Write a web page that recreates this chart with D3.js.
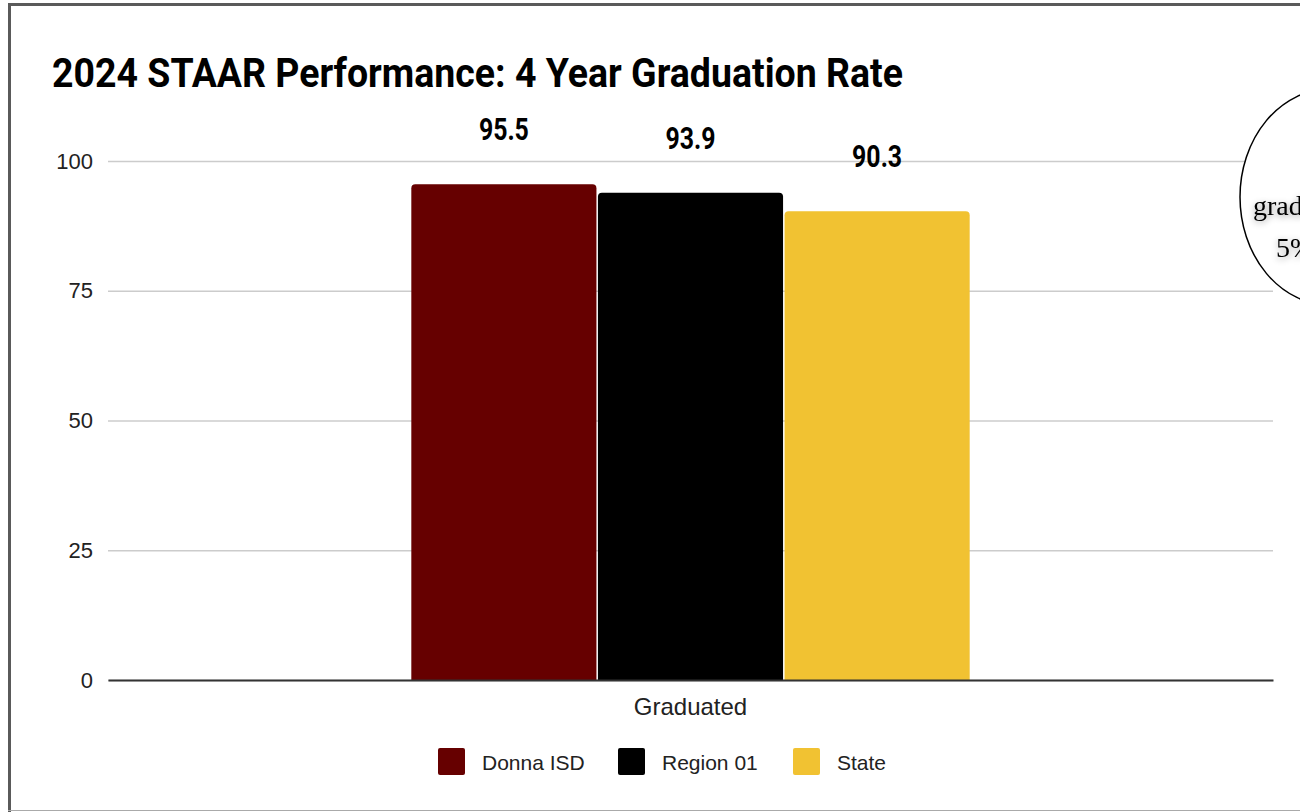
<!DOCTYPE html>
<html>
<head>
<meta charset="utf-8">
<script src="https://cdn.jsdelivr.net/npm/d3@7"></script>
<style>
  body { margin: 0; background: #fff; }
  svg { display: block; }
</style>
</head>
<body>
<div id="chart-area"></div>
<script>
// data
var categories = ["Graduated"];
var seriesNames = ["Donna ISD", "Region 01", "State"];
var seriesValues = [95.5, 93.9, 90.3];
var yTicks = [0, 25, 50, 75, 100];
var seriesColors = ["#660000", "#000000", "#f1c232"];

var W = 1300, H = 812;
var margin = { left: 108, right: 27, top: 161, bottom: 132 };
var width = W - margin.left - margin.right,
    height = H - margin.top - margin.bottom;

var svg = d3.select("#chart-area")
  .append("svg")
    .attr("width", W)
    .attr("height", H);

// outer frame
svg.append("line").attr("x1", 9.5).attr("x2", 9.5).attr("y1", 3).attr("y2", 812)
  .attr("stroke", "#5a5a5a").attr("stroke-width", 3);
svg.append("line").attr("x1", 8).attr("x2", 1300).attr("y1", 4.5).attr("y2", 4.5)
  .attr("stroke", "#5a5a5a").attr("stroke-width", 3);
svg.append("line").attr("x1", 8).attr("x2", 1300).attr("y1", 810.5).attr("y2", 810.5)
  .attr("stroke", "#aaaaaa").attr("stroke-width", 1);

// title
svg.append("text")
  .attr("x", 52)
  .attr("y", 87)
  .attr("font-family", "Roboto, 'Liberation Sans', sans-serif")
  .attr("font-weight", "bold")
  .attr("font-size", "40px")
  .attr("textLength", 851)
  .attr("lengthAdjust", "spacingAndGlyphs")
  .attr("fill", "#000")
  .text("2024 STAAR Performance: 4 Year Graduation Rate");

var g = svg.append("g")
  .attr("transform", "translate(" + margin.left + "," + margin.top + ")");

var y = d3.scaleLinear().domain([0, 100]).range([height, 0]);

var x0 = d3.scaleBand().domain(categories).range([0, width])
  .paddingInner(0.352).paddingOuter(0.352);
var x1 = d3.scaleBand().domain(seriesNames).range([0, x0.bandwidth()])
  .paddingInner(0.008);
var color = d3.scaleOrdinal().domain(seriesNames).range(seriesColors);

// gridlines + y labels
var yAxis = g.append("g")
  .call(d3.axisLeft(y).tickValues(yTicks).tickSize(-width).tickPadding(15));
yAxis.select(".domain").remove();
yAxis.selectAll(".tick line").attr("stroke", "#cccccc").attr("stroke-width", 1.3);
yAxis.selectAll(".tick text")
  .attr("font-family", "'Liberation Sans', Arial, sans-serif")
  .attr("font-size", "22px")
  .attr("fill", "#222");

// bars
var bars = g.append("g").selectAll("g")
  .data(categories)
  .enter().append("g")
    .attr("transform", function(d){ return "translate(" + x0(d) + ",0)"; });

function topRounded(x, yTop, w, h, r) {
  return "M" + x + "," + (yTop + h) +
    "V" + (yTop + r) +
    "Q" + x + "," + yTop + " " + (x + r) + "," + yTop +
    "H" + (x + w - r) +
    "Q" + (x + w) + "," + yTop + " " + (x + w) + "," + (yTop + r) +
    "V" + (yTop + h) + "Z";
}

var barData = seriesNames.map(function(s, i){ return { name: s, value: seriesValues[i] }; });

bars.selectAll("path")
  .data(barData)
  .enter().append("path")
    .attr("d", function(d){
      return topRounded(x1(d.name), y(d.value), x1.bandwidth(), height - y(d.value), 4);
    })
    .attr("fill", function(d){ return color(d.name); });

bars.selectAll("text.val")
  .data(barData)
  .enter().append("text")
    .attr("class", "val")
    .attr("x", function(d){ return x1(d.name) + x1.bandwidth() / 2; })
    .attr("y", function(d){ return y(d.value) - 44; })
    .attr("text-anchor", "middle")
    .attr("font-family", "Roboto, 'Liberation Sans', sans-serif")
    .attr("font-weight", "bold")
    .attr("font-size", "31px")
    .attr("textLength", 50)
    .attr("lengthAdjust", "spacingAndGlyphs")
    .attr("fill", "#000")
    .text(function(d){ return d.value; });

// baseline + category label
var xAxis = g.append("g")
  .attr("transform", "translate(0," + height + ")")
  .call(d3.axisBottom(x0).tickSize(0).tickPadding(18));
xAxis.select(".domain").attr("stroke", "#333").attr("stroke-width", 2);
xAxis.selectAll(".tick text")
  .attr("font-family", "'Liberation Sans', Arial, sans-serif")
  .attr("font-size", "24px")
  .attr("fill", "#222");

// legend
var legendX = [438, 618, 793];
var legend = svg.append("g").selectAll("g")
  .data(seriesNames)
  .enter().append("g")
    .attr("transform", function(d, i){ return "translate(" + legendX[i] + ",748)"; });
legend.append("rect")
  .attr("width", 27).attr("height", 27).attr("rx", 2)
  .attr("fill", function(d){ return color(d); });
legend.append("text")
  .attr("x", 44)
  .attr("y", 22)
  .attr("font-family", "'Liberation Sans', Arial, sans-serif")
  .attr("font-size", "21px")
  .attr("fill", "#222")
  .text(function(d){ return d; });

// callout oval on right edge
var defs = svg.append("defs");
var f = defs.append("filter").attr("id", "glow").attr("x", "-20%").attr("y", "-40%")
  .attr("width", "140%").attr("height", "180%");
f.append("feDropShadow").attr("dx", 0).attr("dy", 2).attr("stdDeviation", 3)
  .attr("flood-color", "#000").attr("flood-opacity", 0.4);

svg.append("ellipse")
  .attr("cx", 1330).attr("cy", 197).attr("rx", 90).attr("ry", 108)
  .attr("fill", "#fff").attr("stroke", "#000").attr("stroke-width", 1.5);
svg.append("text")
  .attr("x", 1253).attr("y", 215)
  .attr("font-family", "'Liberation Serif', 'Times New Roman', serif")
  .attr("font-size", "28px")
  .attr("fill", "#000")
  .attr("filter", "url(#glow)")
  .text("graduation");
svg.append("text")
  .attr("x", 1276).attr("y", 257)
  .attr("font-family", "'Liberation Serif', 'Times New Roman', serif")
  .attr("font-size", "28px")
  .attr("fill", "#000")
  .attr("filter", "url(#glow)")
  .text("5%");
</script>
</body>
</html>
